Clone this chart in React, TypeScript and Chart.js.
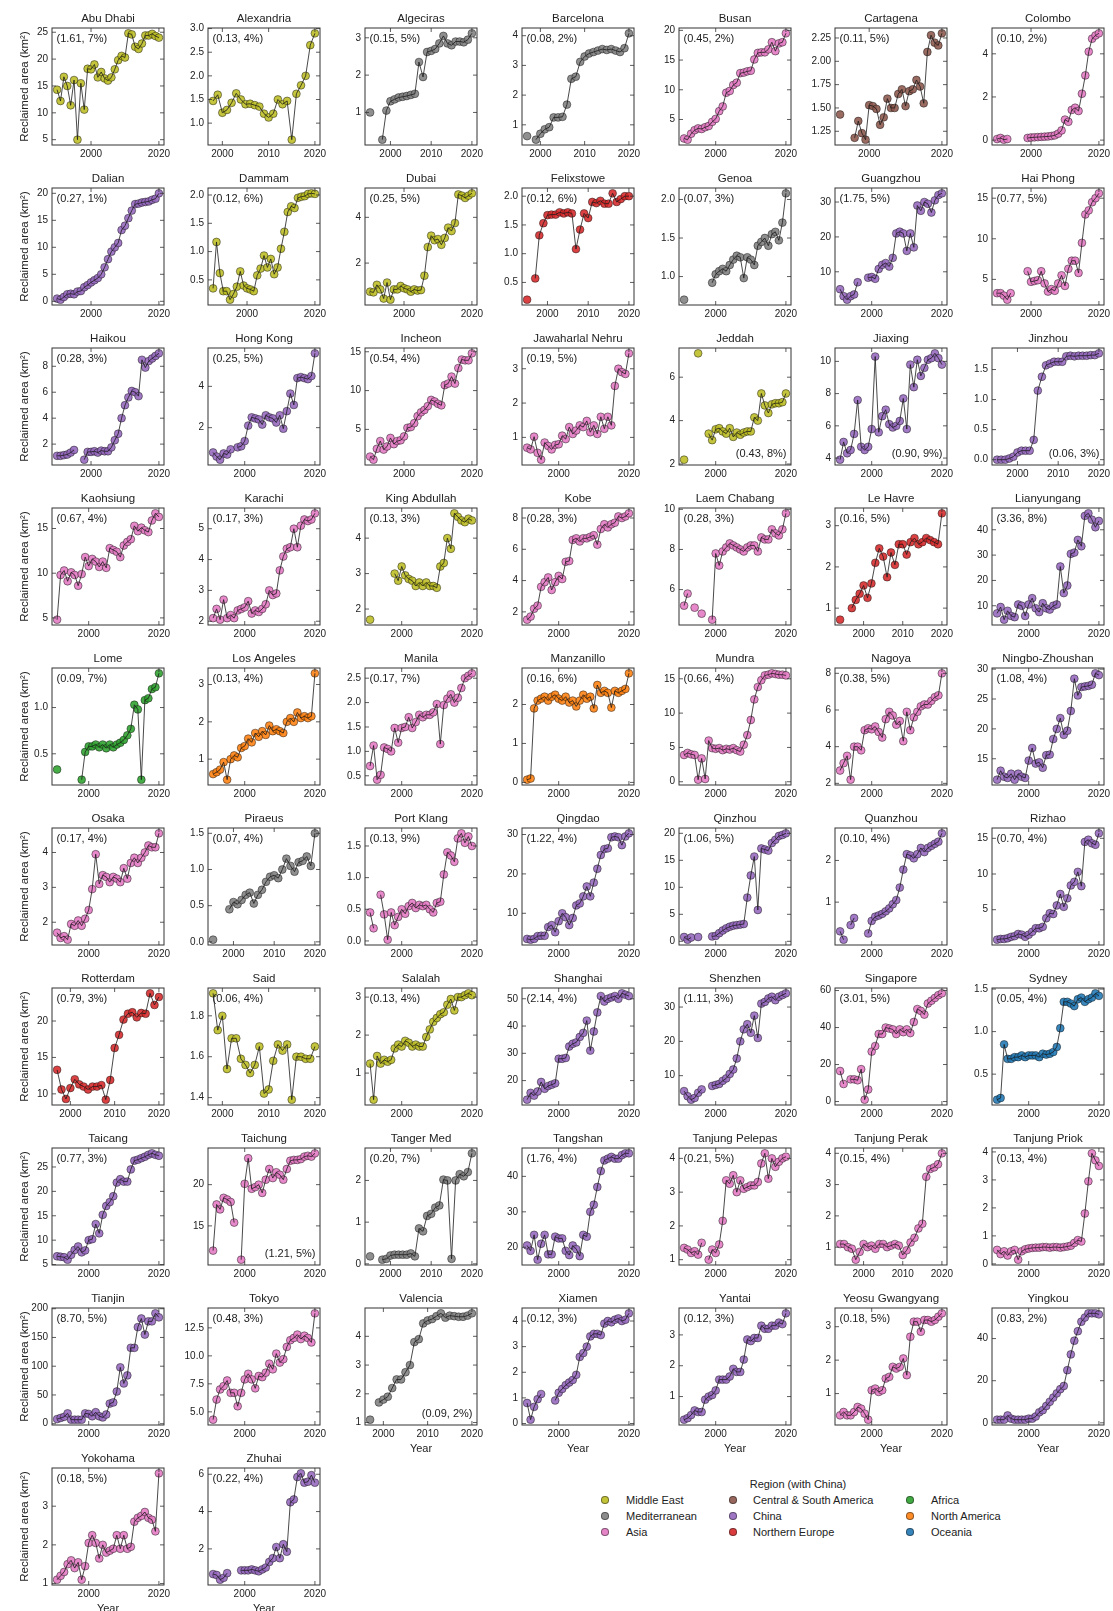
import React, { useEffect, useRef } from "react";
import { Chart, registerables } from "chart.js";

Chart.register(...registerables);

const FONT = "'Liberation Sans', Arial, Helvetica, sans-serif";
Chart.defaults.font.family = FONT;

// ---------------- data ----------------
const CITIES = [
  "Abu Dhabi", "Alexandria", "Algeciras", "Barcelona", "Busan", "Cartagena", "Colombo",
  "Dalian", "Dammam", "Dubai", "Felixstowe", "Genoa", "Guangzhou", "Hai Phong",
  "Haikou", "Hong Kong", "Incheon", "Jawaharlal Nehru", "Jeddah", "Jiaxing", "Jinzhou",
  "Kaohsiung", "Karachi", "King Abdullah", "Kobe", "Laem Chabang", "Le Havre", "Lianyungang",
  "Lome", "Los Angeles", "Manila", "Manzanillo", "Mundra", "Nagoya", "Ningbo-Zhoushan",
  "Osaka", "Piraeus", "Port Klang", "Qingdao", "Qinzhou", "Quanzhou", "Rizhao",
  "Rotterdam", "Said", "Salalah", "Shanghai", "Shenzhen", "Singapore", "Sydney",
  "Taicang", "Taichung", "Tanger Med", "Tangshan", "Tanjung Pelepas", "Tanjung Perak", "Tanjung Priok",
  "Tianjin", "Tokyo", "Valencia", "Xiamen", "Yantai", "Yeosu Gwangyang", "Yingkou",
  "Yokohama", "Zhuhai",
];

const CITY_REGIONS = [
  "Middle East", "Middle East", "Mediterranean", "Mediterranean", "Asia", "Central & South America", "Asia",
  "China", "Middle East", "Middle East", "Northern Europe", "Mediterranean", "China", "Asia",
  "China", "China", "Asia", "Asia", "Middle East", "China", "China",
  "Asia", "Asia", "Middle East", "Asia", "Asia", "Northern Europe", "China",
  "Africa", "North America", "Asia", "North America", "Asia", "Asia", "China",
  "Asia", "Mediterranean", "Asia", "China", "China", "China", "China",
  "Northern Europe", "Middle East", "Middle East", "China", "China", "Asia", "Oceania",
  "China", "Asia", "Mediterranean", "China", "Asia", "Asia", "Asia",
  "China", "Asia", "Mediterranean", "China", "China", "Asia", "China",
  "Asia", "China",
];

const START_YEARS = [
  1990, 1998, 1995, 1997, 1991, 1992, 1990,
  1990, 1990, 1990, 1995, 1991, 1991, 1990,
  1990, 1991, 1990, 1991, 1991, 1991, 1995,
  1991, 1991, 1991, 1991, 1991, 1994, 1991,
  1991, 1991, 1991, 1991, 1991, 1991, 1991,
  1991, 1995, 1991, 1991, 1991, 1991, 1991,
  1997, 1998, 1991, 1991, 1991, 1991, 1991,
  1991, 1991, 1995, 1991, 1991, 1994, 1991,
  1991, 1991, 1997, 1991, 1991, 1991, 1991,
  1991, 1991,
];

const N = null;
const abuDhabi = [14.3, 12.2, 16.7, 15.0, 11.4, 16.1, 5.0, 15.5, 10.6, 18.2, 18.1, 19.0, 16.6, 17.6, 16.4, 16.0, 16.6, 18.1, 19.8, 20.6, 20.3, 24.8, 24.6, 22.3, 21.9, 22.9, 24.4, 24.4, 24.7, 24.3, 24.0];
const alexandria = [1.47, 1.60, 1.22, 1.28, 1.43, 1.63, 1.50, 1.40, 1.41, 1.38, 1.35, 1.20, 1.12, 1.20, 1.50, 1.40, 1.47, 0.65, 1.62, 1.80, 2.00, 2.65, 2.90];
const algeciras = [1.0, N, N, 0.27, 1.05, 1.30, 1.35, 1.40, 1.42, 1.44, 1.47, 1.50, 2.35, 1.95, 2.62, 2.65, 2.70, 2.85, 3.05, 2.85, 2.80, 2.90, 2.90, 2.88, 2.95, 3.12];
const barcelona = [0.62, N, 0.50, 0.70, 0.85, 0.92, 1.25, 1.25, 1.27, 1.68, 2.55, 2.62, 3.12, 3.30, 3.40, 3.45, 3.50, 3.55, 3.52, 3.55, 3.50, 3.45, 3.58, 4.08];
const busan = [1.8, 1.6, 2.6, 3.2, 3.5, 3.4, 3.7, 3.9, 4.6, 5.1, 6.4, 7.2, 9.5, 9.8, 10.8, 11.2, 12.8, 12.9, 13.1, 13.2, 15.1, 16.2, 16.3, 16.3, 16.8, 18.0, 16.5, 17.8, 18.0, 19.5];
const cartagena = [1.43, N, N, N, 1.18, 1.36, 1.23, 1.16, 1.53, 1.52, 1.49, 1.32, 1.40, 1.60, 1.50, 1.50, 1.65, 1.70, 1.52, 1.68, 1.70, 1.80, 1.73, 1.55, 2.10, 2.28, 2.20, 2.17, 2.30];
const colombo = [0.05, 0.10, 0.02, 0.05, N, N, N, N, N, 0.10, 0.12, 0.13, 0.14, 0.15, 0.16, 0.17, 0.19, 0.22, 0.30, 0.45, 0.95, 0.85, 1.40, 1.50, 1.35, 2.15, 3.00, 4.10, 4.70, 4.85, 4.95];
const dalian = [0.5, 0.3, 0.8, 1.3, 1.4, 1.3, 1.8, 1.9, 2.6, 3.0, 3.5, 3.9, 4.3, 5.0, 6.3, 7.8, 9.2, 10.0, 10.8, 13.2, 14.0, 15.4, 16.8, 18.0, 18.1, 18.3, 18.4, 18.5, 18.8, 19.0, 20.0];
const dammam = [0.35, 1.17, 0.62, 0.30, 0.30, 0.15, 0.25, 0.38, 0.65, 0.40, 0.35, 0.33, 0.30, 0.58, 0.70, 0.93, 0.72, 0.87, 0.60, 0.72, 1.05, 1.35, 1.70, 1.80, 1.77, 1.95, 1.97, 1.98, 2.02, 2.03, 2.02];
const dubai = [0.75, 0.72, 1.05, 0.85, 0.45, 1.15, 0.40, 0.85, 0.85, 1.00, 0.90, 0.85, 0.75, 0.85, 0.80, 0.82, 1.45, 2.70, 3.20, 3.00, 3.05, 2.80, 3.10, 3.55, 3.40, 3.75, 5.00, 4.95, 4.85, 4.95, 5.05];
const felixstowe = [0.20, N, 0.57, 1.32, 1.53, 1.67, 1.68, 1.68, 1.72, 1.70, 1.72, 1.70, 1.08, 1.42, 1.70, 1.62, 1.90, 1.88, 1.92, 1.87, 1.87, 2.05, 1.90, 1.95, 2.00, 2.00];
const genoa = [0.70, N, N, N, N, N, N, N, 0.92, 1.03, 1.07, 1.10, 1.07, 1.15, 1.22, 1.27, 1.25, 0.98, 1.25, 1.22, 1.15, 1.40, 1.45, 1.50, 1.40, 1.55, 1.58, 1.47, 1.70, 2.08];
const guangzhou = [5.0, 3.0, 2.0, 3.0, 3.5, 7.0, N, N, 8.3, 8.5, 8.0, 10.8, 12.0, 12.5, 11.5, 14.0, 21.0, 21.5, 21.0, 16.0, 21.0, 17.0, 29.0, 27.5, 30.0, 29.5, 27.0, 30.5, 32.0, 32.5];
const haiPhong = [3.3, 3.3, 3.0, 2.5, 3.3, N, N, N, N, 6.0, 4.7, 4.8, 4.9, 6.0, 4.5, 3.5, 3.8, 3.6, 4.5, 5.5, 4.2, 6.3, 7.3, 7.3, 5.8, 9.5, 13.0, 13.5, 14.5, 15.0, 15.6];
const haikou = [1.1, 1.1, 1.15, 1.2, 1.35, 1.55, N, N, 0.8, 1.4, 1.4, 1.45, 1.35, 1.5, 1.45, 1.45, 1.75, 2.3, 2.8, 4.0, 5.0, 5.6, 6.1, 6.0, 5.7, 8.5, 7.9, 8.4, 8.6, 8.8, 9.0];
const hongKong = [0.8, 0.6, 0.45, 0.75, 0.7, 0.95, N, 1.05, 1.1, 1.35, 2.1, 2.5, 2.45, 2.4, 2.15, 2.6, 2.5, 2.45, 2.25, 2.6, 1.95, 2.8, 3.65, 3.1, 4.4, 4.45, 4.4, 4.35, 4.5, 5.6];
const incheon = [1.5, 1.1, 2.5, 3.5, 2.4, 2.8, 3.9, 3.1, 3.5, 3.6, 4.1, 5.2, 5.3, 5.8, 6.7, 7.2, 7.5, 8.0, 8.8, 8.6, 8.3, 8.1, 10.7, 10.9, 11.8, 10.9, 12.9, 14.0, 13.9, 13.9, 14.8];
const jawaharlalNehru = [0.7, 0.65, 1.02, 0.55, 0.35, 0.85, 0.75, 0.65, 0.78, 0.8, 1.05, 0.95, 1.3, 1.1, 1.2, 1.35, 1.3, 1.48, 1.15, 1.35, 1.1, 1.6, 1.25, 1.6, 1.35, 2.5, 3.0, 2.9, 2.85, 3.45];
const jeddah = [2.2, N, N, N, 7.1, N, N, 3.4, 3.1, 3.6, 3.65, 3.5, 3.4, 3.65, 3.25, 3.45, 3.35, 3.45, 3.5, 3.5, 4.15, 4.0, 5.25, 4.7, 4.35, 4.75, 4.8, 4.8, 4.85, 5.25];
const jiaxing = [3.9, 5.0, 4.3, 4.5, 5.5, 7.6, 4.7, 4.5, 4.7, 5.8, 10.3, 5.6, 6.6, 7.0, 6.1, 5.9, 6.0, 6.3, 7.7, 5.8, 9.8, 8.4, 10.1, 9.1, 9.6, 10.1, 10.2, 10.5, 10.2, 9.8];
const jinzhou = [0.0, 0.0, 0.0, 0.02, 0.05, 0.12, 0.15, 0.15, 0.15, 0.33, 1.15, 1.38, 1.57, 1.60, 1.63, 1.63, 1.63, 1.72, 1.73, 1.72, 1.73, 1.73, 1.73, 1.74, 1.74, 1.77];
const kaohsiung = [4.8, 9.8, 10.3, 9.1, 10.1, 9.8, 8.6, 9.9, 11.8, 10.8, 11.6, 11.3, 10.7, 11.3, 10.6, 12.8, 12.6, 12.4, 11.8, 13.1, 13.5, 13.8, 15.3, 14.7, 15.1, 14.8, 14.6, 15.9, 16.7, 16.3];
const karachi = [2.1, 2.4, 2.05, 2.7, 2.1, 2.2, 2.1, 2.35, 2.4, 2.45, 2.65, 2.25, 2.35, 2.3, 2.4, 2.55, 3.0, 2.85, 2.9, 3.65, 4.1, 4.35, 4.4, 5.0, 4.4, 5.1, 5.3, 5.25, 5.3, 5.5];
const kingAbdullah = [1.7, N, N, N, N, N, N, 3.0, 2.8, 3.2, 2.95, 2.85, 2.8, 2.65, 2.75, 2.65, 2.75, 2.65, 2.65, 2.6, 3.2, 3.3, 4.0, 3.7, 4.7, 4.6, 4.5, 4.45, 4.55, 4.5];
const kobe = [1.5, 1.7, 2.2, 2.4, 3.6, 3.9, 4.2, 3.4, 3.9, 4.3, 4.1, 5.2, 5.25, 6.6, 6.7, 6.5, 6.7, 6.7, 6.8, 6.9, 6.3, 7.3, 7.6, 7.4, 7.6, 7.7, 8.1, 8.0, 8.1, 8.3];
const laemChabang = [5.2, 5.8, N, 5.1, N, 4.8, N, N, 4.5, 7.8, 7.2, 7.9, 8.1, 8.3, 8.2, 8.1, 8.0, 7.9, 8.1, 8.2, 8.2, 7.9, 8.6, 8.5, 8.5, 9.0, 8.8, 8.7, 9.0, 9.8];
const leHavre = [0.72, N, N, 1.0, 1.2, 1.35, 1.55, 1.25, 1.6, 2.1, 2.45, 2.25, 1.75, 2.35, 2.05, 2.55, 2.55, 2.3, 2.6, 2.7, 2.55, 2.6, 2.7, 2.65, 2.6, 2.55, 3.3];
const lianyungang = [7, 9.5, 4.5, 8, 6, 5.5, 10.5, 10, 6, 10.5, 13, 9, 7.5, 11, 9, 8.5, 10, 10.5, 25.5, 15, 18, 30.5, 31, 36, 33.5, 45.5, 46.5, 44, 41, 43.5];
const lome = [0.33, N, N, N, N, N, N, 0.22, 0.52, 0.58, 0.58, 0.60, 0.57, 0.60, 0.56, 0.60, 0.57, 0.60, 0.62, 0.65, 0.70, 0.77, 1.03, 0.98, 0.22, 1.08, 1.10, 1.20, 1.22, 1.37];
const losAngeles = [0.6, 0.65, 0.72, 0.92, 0.45, 1.0, 1.1, 1.05, 1.3, 1.35, 1.55, 1.45, 1.7, 1.6, 1.75, 1.65, 1.9, 1.75, 1.8, 1.75, 1.7, 2.0, 2.1, 2.0, 2.25, 2.1, 2.15, 2.1, 2.15, 3.3];
const manila = [0.7, 1.12, 0.42, 0.52, 1.08, 1.05, 1.0, 1.48, 1.18, 1.48, 1.5, 1.7, 1.48, 1.6, 1.75, 1.7, 1.75, 1.75, 1.8, 1.97, 1.15, 1.95, 2.08, 2.17, 2.0, 2.1, 2.3, 2.5, 2.55, 2.6];
const manzanillo = [0.07, 0.1, 1.9, 2.1, 2.15, 2.2, 2.1, 2.2, 2.25, 2.15, 2.1, 2.2, 2.05, 2.1, 1.95, 2.1, 2.25, 2.15, 2.2, 1.9, 2.5, 2.3, 2.35, 2.3, 1.92, 2.35, 2.3, 2.35, 2.4, 2.8];
const mundra = [3.9, 4.2, 4.0, 3.9, 0.3, 3.4, 0.4, 6.0, 4.9, 4.8, 4.9, 4.6, 4.8, 4.7, 4.9, 4.6, 4.4, 5.4, 6.8, 9.0, 12.0, 13.8, 14.8, 15.5, 15.6, 15.8, 15.7, 15.6, 15.6, 15.5];
const nagoya = [2.7, 3.1, 3.5, 2.2, 4.0, 4.0, 3.8, 4.9, 5.0, 4.95, 5.1, 4.8, 4.5, 5.5, 5.9, 5.7, 5.2, 5.4, 4.3, 5.9, 4.9, 5.6, 5.9, 6.2, 6.3, 6.3, 6.5, 6.7, 6.8, 8.0];
const ningboZhoushan = [11.5, 13, 12, 11.8, 12.5, 11.5, 12.5, 12, 11.8, 14.7, 16.8, 14.2, 14.4, 13.5, 15.6, 15.7, 18.3, 20, 21.8, 19, 19.7, 23, 28.4, 25.6, 27, 27.1, 27.2, 27.4, 29.3, 29];
const osaka = [1.7, 1.55, 1.6, 1.5, 1.95, 1.9, 2.05, 1.9, 2.1, 2.35, 2.95, 3.95, 3.1, 3.35, 3.3, 3.15, 3.3, 3.25, 3.15, 3.55, 3.25, 3.7, 3.85, 3.7, 3.85, 4.0, 4.2, 4.15, 4.15, 4.55];
const piraeus = [0.03, N, N, N, 0.45, 0.55, 0.52, 0.58, 0.65, 0.68, 0.53, 0.65, 0.72, 0.83, 0.9, 0.92, 0.88, 1.0, 1.15, 1.05, 0.97, 1.1, 1.12, 1.18, 1.05, 1.5];
const portKlang = [0.45, 0.2, N, 0.73, 0.42, 0.02, 0.45, 0.25, 0.38, 0.5, 0.43, 0.55, 0.6, 0.52, 0.57, 0.55, 0.57, 0.5, 0.45, 0.6, 0.62, 1.05, 1.4, 1.35, 1.25, 1.62, 1.7, 1.55, 1.65, 1.5];
const qingdao = [3.5, 3.3, 3.5, 4.2, 4.3, 4.3, 6.5, 7.0, 5.2, 8.0, 10.0, 9.0, 7.0, 8.8, 12.0, 12.5, 14.3, 16.8, 14.3, 17.8, 21.3, 24.8, 26.3, 26.5, 29.3, 29.5, 29.3, 27.3, 29.5, 30.3];
const qinzhou = [0.8, 0.3, 0.7, N, 0.8, N, N, N, 0.9, 1.0, 1.5, 2.0, 2.4, 2.7, 2.9, 3.0, 3.1, 3.2, 8.1, 12.2, 15.7, 5.8, 17.2, 17.0, 16.8, 18.2, 18.8, 19.5, 19.7, 20.0];
const quanzhou = [0.3, 0.1, N, 0.45, 0.62, N, N, N, 0.25, 0.55, 0.65, 0.68, 0.72, 0.78, 0.85, 0.95, 1.05, 1.35, 1.78, 2.15, 2.12, 2.05, 2.15, 2.3, 2.2, 2.3, 2.35, 2.4, 2.45, 2.65];
const rizhao = [0.8, 0.9, 0.9, 1.0, 1.2, 1.3, 1.6, 1.5, 1.2, 1.5, 1.9, 2.4, 2.4, 2.6, 3.8, 4.5, 4.4, 5.6, 7.2, 5.4, 6.6, 8.4, 8.9, 10.3, 8.3, 14.5, 14.8, 14.3, 14.1, 15.7];
const rotterdam = [13.3, 10.6, 9.3, 10.8, 12.0, 11.3, 11.0, 10.6, 11.0, 11.0, 11.2, 9.2, 11.9, 16.3, 18.1, 20.2, 21.0, 21.2, 20.5, 21.1, 21.0, 23.8, 22.2, 23.3];
const said = [1.91, 1.73, 1.80, 1.54, 1.69, 1.69, 1.59, 1.56, 1.52, 1.56, 1.65, 1.42, 1.44, 1.58, 1.66, 1.63, 1.66, 1.39, 1.60, 1.60, 1.59, 1.59, 1.65];
const salalah = [1.25, 0.3, 1.45, 1.25, 1.35, 1.3, 1.35, 1.65, 1.75, 1.7, 1.85, 1.8, 1.7, 1.75, 1.7, 1.7, 1.95, 2.15, 2.35, 2.45, 2.55, 2.6, 2.8, 2.95, 2.65, 3.0, 3.0, 3.05, 3.1, 3.05];
const shanghai = [13, 15.5, 14.5, 16, 19.5, 17, 18, 18.5, 19, 28, 28, 28.3, 32.5, 33.5, 34, 36, 37.5, 42, 31, 38, 45, 51, 49, 50, 50.5, 51, 50, 52, 51.5, 51];
const shenzhen = [5.5, 4, 3, 3.5, 5, 6, N, N, 7, 7.3, 7.6, 8.5, 9.2, 10.5, 11.8, 15, 20, 23.5, 25, 22.5, 27.5, 21, 31, 31.5, 32.5, 33, 32, 33, 33.5, 34];
const singapore = [16.5, 9.5, N, 12, 12, 11.5, 17.5, 1, 6.5, 27, 30, 36.5, 36.5, 40, 39.5, 39, 36.5, 39, 37.5, 39, 37, 43, 50, 49, 47, 53, 54.5, 56, 57.5, 58.5];
const sydney = [0.2, 0.22, 0.85, 0.68, 0.68, 0.7, 0.7, 0.72, 0.7, 0.72, 0.72, 0.72, 0.7, 0.74, 0.73, 0.74, 0.76, 0.82, 1.04, 1.35, 1.35, 1.33, 1.3, 1.38, 1.4, 1.35, 1.38, 1.4, 1.45, 1.42];
const taicang = [6.7, 6.6, 6.5, 6.0, 7.0, 8.0, 8.7, 7.5, 7.9, 10.0, 10.2, 13.3, 11.4, 15.2, 17.0, 17.8, 19.0, 21.8, 22.5, 22.0, 22.0, 24.5, 26.3, 26.5, 26.8, 27.1, 27.5, 27.8, 27.5, 27.3];
const taichung = [12.0, 17.6, 17.0, 18.4, 18.2, 17.9, 15.4, N, 10.9, 20.1, 23.2, 19.5, 19.7, 20.0, 19.0, 20.6, 21.9, 20.8, 21.5, 21.2, 20.6, 21.9, 22.9, 23.0, 23.0, 23.1, 23.4, 23.5, 23.4, 23.8];
const tangerMed = [0.18, N, N, 0.1, 0.12, 0.2, 0.22, 0.22, 0.22, 0.22, 0.25, 0.18, 0.85, 0.78, 1.15, 1.2, 1.35, 1.4, 2.02, 2.0, 0.12, 2.0, 2.15, 2.1, 2.2, 2.65];
const tangshan = [20.5, 19, 23.5, 16.5, 21, 23.5, 18, 18, 23, 22.5, 22.5, 19, 17.8, 20.5, 19.5, 17.5, 23.5, 23, 30, 32, 37, 41.5, 44.5, 45, 45.5, 45, 45, 46, 46.5, 46.5];
const tanjungPelepas = [1.35, 1.3, 1.2, 1.25, 1.15, 1.5, N, 1.0, 1.3, 1.2, 1.45, 2.15, 3.35, 3.25, 3.5, 3.0, 3.35, 3.1, 3.15, 3.2, 3.2, 3.3, 3.85, 4.15, 3.4, 4.0, 3.75, 3.9, 4.0, 4.05];
const tanjungPerak = [1.1, 1.1, 1.0, 0.95, 0.6, 0.85, 1.1, 1.0, 1.05, 0.95, 1.1, 1.1, 1.0, 1.05, 1.1, 1.05, 0.75, 0.9, 1.15, 1.3, 1.6, 1.75, 3.25, 3.5, 3.55, 3.65, 4.0];
const tanjungPriok = [0.5, 0.35, 0.45, 0.3, 0.45, 0.5, 0.15, 0.45, 0.52, 0.55, 0.57, 0.58, 0.58, 0.6, 0.6, 0.58, 0.6, 0.6, 0.58, 0.6, 0.62, 0.65, 0.75, 0.85, 0.8, 1.8, 2.95, 3.95, 3.7, 3.5];
const tianjin = [8, 10, 12, 18, 7, 7, 7, 7, 18, 17, 13, 20, 13, 11, 16, 35, 37, 56, 98, 70, 84, 132, 132, 168, 183, 155, 178, 178, 192, 185];
const tokyo = [4.3, 6.1, 7.0, 7.3, 7.8, 6.7, 6.7, 5.5, 6.7, 7.9, 8.4, 7.9, 7.1, 8.2, 8.1, 8.5, 9.3, 8.8, 10.2, 9.4, 9.7, 10.8, 11.4, 11.6, 11.9, 11.5, 11.8, 11.6, 11.2, 13.8];
const valencia = [1.1, N, 1.7, 1.8, 1.9, 2.2, 2.5, 2.5, 2.75, 3.0, 3.8, 3.9, 4.45, 4.55, 4.6, 4.7, 4.8, 4.65, 4.72, 4.7, 4.68, 4.68, 4.72, 4.8];
const xiamen = [0.8, 0.15, 0.65, 0.95, 1.15, N, N, N, 0.9, 1.2, 1.35, 1.5, 1.6, 1.7, 1.9, 2.6, 2.75, 3.0, 3.4, 3.5, 3.5, 3.45, 3.9, 4.0, 3.95, 4.05, 4.1, 4.0, 4.05, 4.3];
const yantai = [0.25, 0.3, 0.4, 0.55, 0.5, 0.5, 0.9, 1.0, 1.05, 1.2, 1.55, 1.55, 1.55, 1.65, 1.9, 1.8, 1.8, 2.2, 2.85, 2.8, 2.9, 2.9, 3.3, 3.2, 3.2, 3.3, 3.3, 3.4, 3.35, 3.7];
const yeosuGwangyang = [0.35, 0.45, 0.35, 0.35, 0.45, 0.6, 0.55, 0.4, 0.22, 1.1, 1.15, 1.05, 1.1, 1.45, 1.5, 1.8, 1.75, 1.8, 2.05, 1.55, 2.7, 3.15, 3.15, 2.85, 3.2, 3.2, 3.15, 3.2, 3.3, 3.4];
const yingkou = [1.5, 1.5, 1.5, 3.5, 2, 1.5, 1.5, 1.5, 1.5, 2, 2, 3, 5, 6, 8, 10, 12, 14, 16, 17.5, 25, 32.5, 39, 43.5, 48, 50, 52, 52, 52, 51.5];
const yokohama = [1.1, 1.2, 1.3, 1.5, 1.6, 1.4, 1.55, 1.1, 1.45, 2.05, 2.25, 2.05, 1.65, 2.0, 1.8, 1.85, 1.9, 2.25, 1.9, 2.25, 1.9, 1.95, 2.6, 2.7, 2.75, 2.85, 2.7, 2.65, 2.35, 3.85];
const zhuhai = [0.65, 0.6, 0.35, 0.45, 0.7, N, N, N, 0.85, 0.85, 0.85, 0.9, 0.85, 0.8, 0.9, 1.0, 1.3, 1.5, 2.1, 1.5, 2.25, 1.85, 4.5, 4.65, 5.85, 6.05, 5.55, 5.6, 5.95, 5.55];

const SERIES: (number | null)[][] = [
  abuDhabi, alexandria, algeciras, barcelona, busan, cartagena, colombo,
  dalian, dammam, dubai, felixstowe, genoa, guangzhou, haiPhong,
  haikou, hongKong, incheon, jawaharlalNehru, jeddah, jiaxing, jinzhou,
  kaohsiung, karachi, kingAbdullah, kobe, laemChabang, leHavre, lianyungang,
  lome, losAngeles, manila, manzanillo, mundra, nagoya, ningboZhoushan,
  osaka, piraeus, portKlang, qingdao, qinzhou, quanzhou, rizhao,
  rotterdam, said, salalah, shanghai, shenzhen, singapore, sydney,
  taicang, taichung, tangerMed, tangshan, tanjungPelepas, tanjungPerak, tanjungPriok,
  tianjin, tokyo, valencia, xiamen, yantai, yeosuGwangyang, yingkou,
  yokohama, zhuhai,
];

const Y_TICKS = [
  ["5", "10", "15", "20", "25"], ["1.0", "1.5", "2.0", "2.5", "3.0"], ["1", "2", "3"], ["1", "2", "3", "4"], ["5", "10", "15", "20"], ["1.25", "1.50", "1.75", "2.00", "2.25"], ["0", "2", "4"],
  ["0", "5", "10", "15", "20"], ["0.5", "1.0", "1.5", "2.0"], ["2", "4"], ["0.5", "1.0", "1.5", "2.0"], ["1.0", "1.5", "2.0"], ["10", "20", "30"], ["5", "10", "15"],
  ["2", "4", "6", "8"], ["2", "4"], ["5", "10", "15"], ["1", "2", "3"], ["2", "4", "6"], ["4", "6", "8", "10"], ["0.0", "0.5", "1.0", "1.5"],
  ["5", "10", "15"], ["2", "3", "4", "5"], ["2", "3", "4"], ["2", "4", "6", "8"], ["6", "8", "10"], ["1", "2", "3"], ["10", "20", "30", "40"],
  ["0.5", "1.0"], ["1", "2", "3"], ["0.5", "1.0", "1.5", "2.0", "2.5"], ["0", "1", "2"], ["0", "5", "10", "15"], ["2", "4", "6", "8"], ["15", "20", "25", "30"],
  ["2", "3", "4"], ["0.0", "0.5", "1.0", "1.5"], ["0.0", "0.5", "1.0", "1.5"], ["10", "20", "30"], ["0", "5", "10", "15", "20"], ["1", "2"], ["5", "10", "15"],
  ["10", "15", "20"], ["1.4", "1.6", "1.8"], ["1", "2", "3"], ["20", "30", "40", "50"], ["10", "20", "30"], ["0", "20", "40", "60"], ["0.5", "1.0", "1.5"],
  ["5", "10", "15", "20", "25"], ["15", "20"], ["0", "1", "2"], ["20", "30", "40"], ["1", "2", "3", "4"], ["1", "2", "3", "4"], ["0", "1", "2", "3", "4"],
  ["0", "50", "100", "150", "200"], ["5.0", "7.5", "10.0", "12.5"], ["1", "2", "3", "4"], ["0", "1", "2", "3", "4"], ["0", "1", "2", "3"], ["1", "2", "3"], ["0", "20", "40"],
  ["1", "2", "3"], ["2", "4", "6"],
];

const X_TICKS = [2000, 2010, 2020];

const NOTES = [
  "(1.61, 7%)", "(0.13, 4%)", "(0.15, 5%)", "(0.08, 2%)", "(0.45, 2%)", "(0.11, 5%)", "(0.10, 2%)",
  "(0.27, 1%)", "(0.12, 6%)", "(0.25, 5%)", "(0.12, 6%)", "(0.07, 3%)", "(1.75, 5%)", "(0.77, 5%)",
  "(0.28, 3%)", "(0.25, 5%)", "(0.54, 4%)", "(0.19, 5%)", "(0.43, 8%)", "(0.90, 9%)", "(0.06, 3%)",
  "(0.67, 4%)", "(0.17, 3%)", "(0.13, 3%)", "(0.28, 3%)", "(0.28, 3%)", "(0.16, 5%)", "(3.36, 8%)",
  "(0.09, 7%)", "(0.13, 4%)", "(0.17, 7%)", "(0.16, 6%)", "(0.66, 4%)", "(0.38, 5%)", "(1.08, 4%)",
  "(0.17, 4%)", "(0.07, 4%)", "(0.13, 9%)", "(1.22, 4%)", "(1.06, 5%)", "(0.10, 4%)", "(0.70, 4%)",
  "(0.79, 3%)", "(0.06, 4%)", "(0.13, 4%)", "(2.14, 4%)", "(1.11, 3%)", "(3.01, 5%)", "(0.05, 4%)",
  "(0.77, 3%)", "(1.21, 5%)", "(0.20, 7%)", "(1.76, 4%)", "(0.21, 5%)", "(0.15, 4%)", "(0.13, 4%)",
  "(8.70, 5%)", "(0.48, 3%)", "(0.09, 2%)", "(0.12, 3%)", "(0.12, 3%)", "(0.18, 5%)", "(0.83, 2%)",
  "(0.18, 5%)", "(0.22, 4%)",
];
const NOTES_AT_BOTTOM = ["Jeddah", "Jiaxing", "Jinzhou", "Taichung", "Valencia"];

const REGIONS = ["Middle East", "Mediterranean", "Asia", "Central & South America", "China", "Northern Europe", "Africa", "North America", "Oceania"];
const REGION_COLORS = ["#bcbd22", "#7f7f7f", "#e377c2", "#8c564b", "#9467bd", "#d62728", "#2ca02c", "#ff7f0e", "#1f77b4"];

// ---------------- layout ----------------
const NCOL = 7;
const BOX_W = 112;
const BOX_H = 117;
const COL0 = 51.7;
const COL_PITCH = 156.7;
const ROW0 = 28;
const ROW_PITCH = 160;
const PL = 50; // space left of plot (y ticks + y title)
const PT = 16; // title block
const PB = 34; // x ticks + x title
const PR = 16;
const TEXT = "#222";

function rgba(hex: string, a: number) {
  const n = parseInt(hex.slice(1), 16);
  return `rgba(${(n >> 16) & 255},${(n >> 8) & 255},${n & 255},${a})`;
}

const framePlugin = {
  id: "frame",
  afterDraw(chart: any, _args: any, opts: any) {
    const { ctx, chartArea: a, scales } = chart;
    ctx.save();
    ctx.strokeStyle = "#333";
    ctx.lineWidth = 1;
    ctx.strokeRect(a.left, a.top, a.right - a.left, a.bottom - a.top);
    ctx.lineWidth = 0.8;
    ctx.beginPath();
    const tl = 4;
    scales.x.ticks.forEach((t: any) => {
      const px = scales.x.getPixelForValue(t.value);
      ctx.moveTo(px, a.bottom);
      ctx.lineTo(px, a.bottom - tl);
      ctx.moveTo(px, a.top);
      ctx.lineTo(px, a.top + tl);
    });
    scales.y.ticks.forEach((t: any) => {
      const py = scales.y.getPixelForValue(t.value);
      ctx.moveTo(a.left, py);
      ctx.lineTo(a.left + tl, py);
      ctx.moveTo(a.right, py);
      ctx.lineTo(a.right - tl, py);
    });
    ctx.stroke();
    ctx.font = `11px ${FONT}`;
    ctx.fillStyle = TEXT;
    ctx.textBaseline = "middle";
    if (opts.bottom) {
      ctx.textAlign = "right";
      ctx.fillText(opts.text, a.right - 4.5, a.bottom - 11);
    } else {
      ctx.textAlign = "left";
      ctx.fillText(opts.text, a.left + 4.5, a.top + 11);
    }
    ctx.restore();
  },
};

function Panel({ index }: { index: number }) {
  const ref = useRef<HTMLCanvasElement>(null);
  const col = index % NCOL;
  const row = Math.floor(index / NCOL);
  const boxLeft = Math.round(COL0 + COL_PITCH * col);
  const boxTop = ROW0 + ROW_PITCH * row;
  const width = PL + BOX_W + PR;
  const height = PT + BOX_H + PB;

  useEffect(() => {
    const canvas = ref.current;
    if (!canvas) return;
    const vals = SERIES[index];
    const start = START_YEARS[index];
    const pts = vals.map((v, k) => ({ x: start + k, y: v }));
    const valid = pts.filter((p) => p.y !== null) as { x: number; y: number }[];
    const xs = valid.map((p) => p.x);
    const ys = valid.map((p) => p.y);
    const xmin = Math.min(...xs), xmax = Math.max(...xs);
    const ymin = Math.min(...ys), ymax = Math.max(...ys);
    const xr = xmax - xmin, yr = ymax - ymin;
    const loX = xmin - 0.05 * xr, hiX = xmax + 0.05 * xr;
    const loY = ymin - 0.05 * yr, hiY = ymax + 0.05 * yr;
    const color = REGION_COLORS[REGIONS.indexOf(CITY_REGIONS[index])];
    const xStep = xmin >= 1994 ? 10 : 20;
    const xTicks = X_TICKS.filter((v) => (v - 2000) % xStep === 0 && v >= loX && v <= hiX);
    const yLabels = Y_TICKS[index];
    const yVals = yLabels.map((s) => parseFloat(s));
    const showYear = index + NCOL >= CITIES.length;

    const chart = new Chart(canvas, {
      type: "scatter",
      data: {
        datasets: [
          {
            data: pts as any,
            showLine: true,
            borderColor: "#1a1a1a",
            borderWidth: 0.8,
            pointRadius: 0,
            spanGaps: false,
            order: 1,
          },
          {
            data: valid,
            showLine: false,
            pointRadius: 3.9,
            pointBackgroundColor: rgba(color, 0.88),
            pointBorderColor: "rgba(20,20,20,0.8)",
            pointBorderWidth: 0.6,
            order: 2,
          },
        ],
      },
      options: {
        animation: false,
        responsive: false,
        maintainAspectRatio: false,
        devicePixelRatio: 1,
        events: [],
        layout: { padding: { left: 0, right: PR, top: 0, bottom: 0 } },
        plugins: {
          legend: { display: false },
          tooltip: { enabled: false },
          title: {
            display: true,
            fullSize: false,
            text: CITIES[index],
            color: TEXT,
            font: { family: FONT, size: 11.5, weight: "normal", lineHeight: 1.2 },
            padding: { top: 0, bottom: 2.2 },
          },
          frame: { text: NOTES[index], bottom: NOTES_AT_BOTTOM.includes(CITIES[index]) },
        } as any,
        scales: {
          x: {
            type: "linear",
            min: loX,
            max: hiX,
            bounds: "data",
            grid: { display: false, drawTicks: false },
            border: { display: false },
            ticks: {
              color: TEXT,
              font: { family: FONT, size: 10 },
              padding: 3,
              maxRotation: 0,
              autoSkip: false,
              callback: (v: any) => String(v),
            },
            afterBuildTicks: (axis: any) => {
              axis.ticks = xTicks.map((v) => ({ value: v }));
            },
            afterFit: (axis: any) => {
              axis.height = PB;
            },
            title: {
              display: showYear,
              text: "Year",
              color: TEXT,
              font: { family: FONT, size: 11 },
              padding: { top: 0, bottom: 3.4 },
            },
          },
          y: {
            type: "linear",
            min: loY,
            max: hiY,
            bounds: "data",
            grid: { display: false, drawTicks: false },
            border: { display: false },
            ticks: {
              color: TEXT,
              font: { family: FONT, size: 10 },
              padding: 4,
              autoSkip: false,
              callback: (v: any) => {
                const k = yVals.findIndex((t) => Math.abs(t - v) < 1e-9);
                return k >= 0 ? yLabels[k] : String(v);
              },
            },
            afterBuildTicks: (axis: any) => {
              axis.ticks = yVals.filter((v) => v >= loY && v <= hiY).map((v) => ({ value: v }));
            },
            afterFit: (axis: any) => {
              axis.width = PL;
            },
            title: {
              display: col === 0,
              text: "Reclaimed area (km²)",
              color: TEXT,
              font: { family: FONT, size: 11.5 },
              padding: { top: 16, bottom: 0 },
            },
          },
        },
      } as any,
      plugins: [framePlugin as any],
    });
    return () => chart.destroy();
  }, [index]);

  return (
    <canvas
      ref={ref}
      width={width}
      height={height}
      style={{ position: "absolute", left: boxLeft - PL, top: boxTop - PT, width, height }}
    />
  );
}

const LEGEND_COL_X = [605, 733, 910];
const LEGEND_TEXT_X = [626, 753, 931];
const LEGEND_ROW_Y = [1500, 1516, 1532];

function Legend() {
  return (
    <>
      <div
        style={{
          position: "absolute",
          left: 698,
          width: 200,
          top: 1484 - 7,
          height: 14,
          lineHeight: "14px",
          textAlign: "center",
          fontFamily: FONT,
          fontSize: 11,
          color: TEXT,
          whiteSpace: "nowrap",
        }}
      >
        Region (with China)
      </div>
      {REGIONS.map((r, i) => {
        const c = Math.floor(i / 3);
        const rr = i % 3;
        const y = LEGEND_ROW_Y[rr];
        return (
          <React.Fragment key={r}>
            <div
              style={{
                position: "absolute",
                left: LEGEND_COL_X[c] - 3.8,
                top: y - 3.8,
                width: 7.6,
                height: 7.6,
                borderRadius: "50%",
                background: rgba(REGION_COLORS[i], 0.9),
                boxSizing: "border-box",
                border: "0.5px solid rgba(30,30,30,0.5)",
              }}
            />
            <div
              style={{
                position: "absolute",
                left: LEGEND_TEXT_X[c],
                top: y - 7,
                height: 14,
                lineHeight: "14px",
                fontFamily: FONT,
                fontSize: 11,
                color: TEXT,
                whiteSpace: "nowrap",
              }}
            >
              {r}
            </div>
          </React.Fragment>
        );
      })}
    </>
  );
}

export default function App() {
  return (
    <div
      style={{
        position: "absolute",
        left: 0,
        top: 0,
        width: 1113,
        height: 1611,
        overflow: "hidden",
        background: "#fff",
      }}
    >
      {CITIES.map((_, i) => (
        <Panel key={i} index={i} />
      ))}
      <Legend />
    </div>
  );
}
